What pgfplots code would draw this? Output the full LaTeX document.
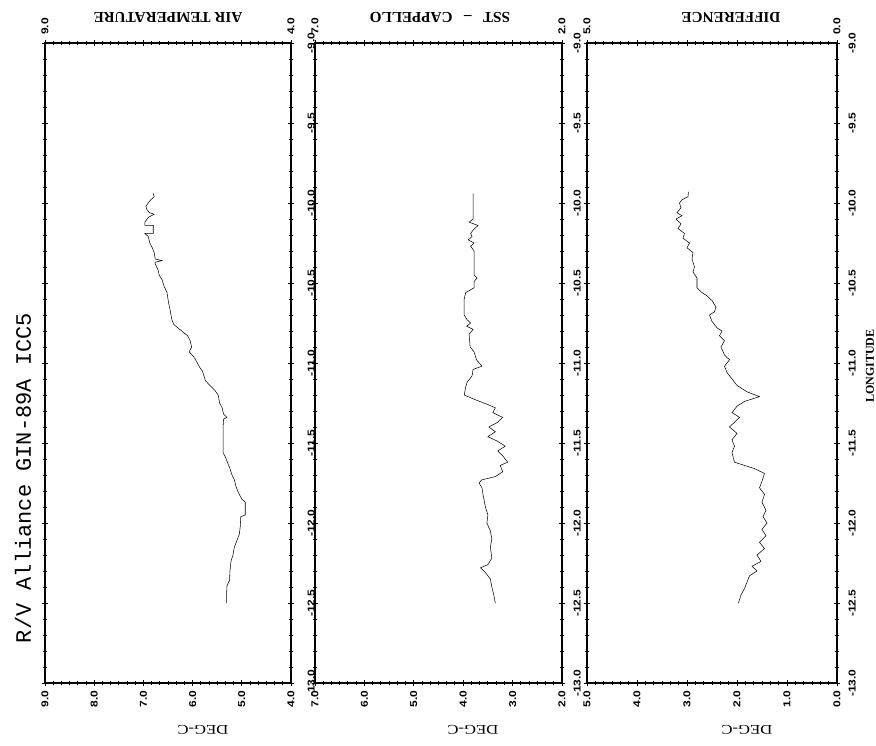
\documentclass[border=0pt]{standalone}
\usepackage{fontspec}
\setmainfont{Liberation Serif}
\setsansfont{Liberation Sans}
\setmonofont{Liberation Mono}
\newfontfamily\tickfont[FakeStretch=1.2]{Liberation Sans}
\newfontfamily\unitfont[FakeStretch=1.25]{Liberation Serif}
\usepackage{pgfplots}
\pgfplotsset{compat=1.18}
\newlength\px \setlength\px{0.75pt}

\pgfplotsset{
  stripchart/.style={
    scale only axis, height=640\px,
    anchor=north west,
    ymin=-13, ymax=-9, x dir=reverse,
    axis line style={line width=1.1pt},
    tick align=center, major tick length=6\px, minor tick length=4\px,
    tick style={line width=0.7pt, black},
    ytick={-13,-12.5,...,-9}, minor y tick num=4,
    minor x tick num=5,
    xtick pos=both, xticklabel pos=left,
    ytick pos=both, yticklabel pos=right,
    ticklabel style={font={\tickfont\bfseries\fontsize{7.5}{8}\selectfont}},
    xticklabel style={rotate=90, anchor=east},
    yticklabel style={rotate=90, anchor=north},
    /pgf/number format/.cd, fixed, fixed zerofill, precision=1, assume math mode=true,
    /pgfplots/.cd,
    cycle list={{black, line width=0.95pt, line join=round, mark=none}},
  },
}

\begin{document}
\begin{tikzpicture}
\path[use as bounding box] (0,0) rectangle (876\px,-746\px);

% ---- air temperature ----
\begin{axis}[stripchart, at={(45\px,-43\px)}, width=246\px,
    xmin=4, xmax=9, xtick={4,...,9}, yticklabel shift=9\px]
\addplot coordinates {
(6.80,-9.94) (6.78,-9.96) (6.85,-9.98) (6.95,-10.02) (6.93,-10.04) (6.88,-10.06)
(6.78,-10.07) (6.90,-10.09) (6.97,-10.12) (6.97,-10.14) (6.80,-10.14) (6.80,-10.19)
(6.97,-10.19) (6.90,-10.21) (6.87,-10.25) (6.82,-10.28) (6.78,-10.31) (6.76,-10.35)
(6.62,-10.36) (6.76,-10.37) (6.76,-10.38) (6.70,-10.42) (6.68,-10.45) (6.62,-10.48)
(6.58,-10.52) (6.52,-10.56) (6.49,-10.62) (6.45,-10.68) (6.42,-10.73) (6.38,-10.76)
(6.30,-10.78) (6.22,-10.80) (6.10,-10.83) (6.05,-10.86) (6.02,-10.90) (6.07,-10.93)
(5.98,-10.96) (5.92,-10.99) (5.85,-11.03) (5.80,-11.05) (5.77,-11.08) (5.74,-11.11)
(5.65,-11.14) (5.55,-11.17) (5.48,-11.20) (5.45,-11.25) (5.40,-11.28) (5.37,-11.32)
(5.30,-11.34) (5.37,-11.35) (5.38,-11.40) (5.38,-11.50) (5.38,-11.56) (5.33,-11.59)
(5.28,-11.63) (5.24,-11.66) (5.20,-11.70) (5.15,-11.73) (5.12,-11.77) (5.07,-11.81)
(5.00,-11.85) (4.93,-11.87) (4.93,-11.95) (5.02,-11.96) (5.03,-12.02) (5.05,-12.07)
(5.10,-12.11) (5.15,-12.15) (5.18,-12.20) (5.22,-12.24) (5.24,-12.30) (5.25,-12.36)
(5.30,-12.39) (5.31,-12.45) (5.31,-12.50)
};
\end{axis}

% ---- sea surface temperature ----
\begin{axis}[stripchart, at={(315\px,-43\px)}, width=247\px,
    xmin=2, xmax=7, xtick={2,...,7}, yticklabel shift=4\px]
\addplot coordinates {
(3.80,-9.94) (3.80,-10.10) (3.88,-10.12) (3.70,-10.14) (3.80,-10.17) (3.85,-10.19)
(3.82,-10.21) (3.90,-10.23) (3.78,-10.25) (3.85,-10.27) (3.78,-10.30) (3.78,-10.45)
(3.72,-10.47) (3.78,-10.49) (3.78,-10.53) (3.95,-10.56) (3.98,-10.60) (3.98,-10.70)
(3.92,-10.73) (3.85,-10.75) (3.93,-10.77) (3.80,-10.79) (3.88,-10.82) (3.86,-10.90)
(3.78,-10.93) (3.73,-10.98) (3.62,-11.02) (3.80,-11.04) (3.82,-11.08) (3.92,-11.12)
(3.95,-11.15) (3.98,-11.20) (3.75,-11.23) (3.50,-11.26) (3.35,-11.28) (3.40,-11.31)
(3.20,-11.34) (3.30,-11.37) (3.48,-11.40) (3.35,-11.43) (3.50,-11.46) (3.30,-11.49)
(3.15,-11.52) (3.30,-11.55) (3.20,-11.58) (3.10,-11.62) (3.25,-11.64) (3.20,-11.68)
(3.35,-11.71) (3.62,-11.73) (3.68,-11.75) (3.62,-11.78) (3.60,-11.82) (3.55,-11.90)
(3.50,-11.95) (3.52,-12.00) (3.45,-12.05) (3.42,-12.10) (3.45,-12.15) (3.42,-12.22)
(3.50,-12.26) (3.65,-12.28) (3.55,-12.31) (3.45,-12.35) (3.42,-12.40) (3.38,-12.45)
(3.35,-12.50)
};
\end{axis}

% ---- air minus sea ----
\begin{axis}[stripchart, at={(587\px,-43\px)}, width=250\px,
    xmin=0, xmax=5, xtick={0,...,5}, yticklabel shift=4\px]
\addplot coordinates {
(2.97,-9.93) (2.98,-9.96) (3.10,-9.98) (3.15,-10.00) (3.12,-10.03) (3.20,-10.06)
(3.10,-10.08) (3.22,-10.10) (3.12,-10.13) (3.18,-10.16) (3.05,-10.19) (3.08,-10.22)
(2.95,-10.25) (3.00,-10.28) (2.88,-10.31) (2.90,-10.35) (2.85,-10.40) (2.88,-10.43)
(2.80,-10.47) (2.80,-10.53) (2.70,-10.56) (2.60,-10.58) (2.50,-10.61) (2.42,-10.65)
(2.45,-10.68) (2.55,-10.70) (2.50,-10.74) (2.40,-10.78) (2.30,-10.80) (2.35,-10.83)
(2.25,-10.86) (2.32,-10.90) (2.25,-10.95) (2.15,-10.98) (2.25,-11.02) (2.20,-11.06)
(2.10,-11.10) (2.00,-11.14) (1.80,-11.18) (1.55,-11.21) (1.85,-11.24) (2.00,-11.27)
(2.10,-11.31) (1.95,-11.34) (2.05,-11.37) (2.15,-11.40) (2.00,-11.44) (2.10,-11.48)
(2.05,-11.52) (2.10,-11.56) (2.05,-11.62) (1.65,-11.66) (1.45,-11.69) (1.50,-11.74)
(1.55,-11.78) (1.45,-11.82) (1.50,-11.87) (1.42,-11.92) (1.48,-11.96) (1.40,-12.00)
(1.50,-12.04) (1.42,-12.08) (1.55,-12.12) (1.45,-12.16) (1.60,-12.20) (1.52,-12.24)
(1.70,-12.27) (1.60,-12.30) (1.75,-12.33) (1.80,-12.37) (1.85,-12.41) (1.92,-12.45)
(1.97,-12.50)
};
\end{axis}

% end values of the temperature scales along the top edges
\begin{scope}[every node/.style={rotate=90, anchor=west, inner sep=0pt,
    font={\tickfont\bfseries\fontsize{7.5}{8}\selectfont}}]
  \node at (45\px,-35\px) {9.0};
  \node at (291\px,-35\px) {4.0};
  \node at (315\px,-35\px) {7.0};
  \node at (562\px,-35\px) {2.0};
  \node at (587\px,-35\px) {5.0};
  \node at (837\px,-35\px) {0.0};
\end{scope}

% panel titles
\begin{scope}[every node/.style={rotate=180, inner sep=0pt,
    font={\bfseries\fontsize{11.4}{12}\selectfont}}]
  \node at (168\px,-17\px) {AIR TEMPERATURE};
  \node at (440\px,-17\px) {SST \ \ -- \ \ CAPPELLO};
  \node at (731\px,-17\px) {DIFFERENCE};
\end{scope}

% unit labels
\begin{scope}[every node/.style={rotate=180, inner sep=0pt,
    font={\unitfont\fontsize{10}{12}\selectfont}}]
  \node at (203\px,-730\px) {DEG-C};
  \node at (473\px,-730\px) {DEG-C};
  \node at (747\px,-730\px) {DEG-C};
\end{scope}

\node[rotate=90, inner sep=0pt, font={\bfseries\fontsize{9}{10}\selectfont}]
  at (870\px,-366\px) {LONGITUDE};
\node[rotate=90, inner sep=0pt, font={\ttfamily\fontsize{16.5}{18}\selectfont}]
  at (23\px,-478\px) {R/V Alliance GIN-89A ICC5};
\end{tikzpicture}
\end{document}
